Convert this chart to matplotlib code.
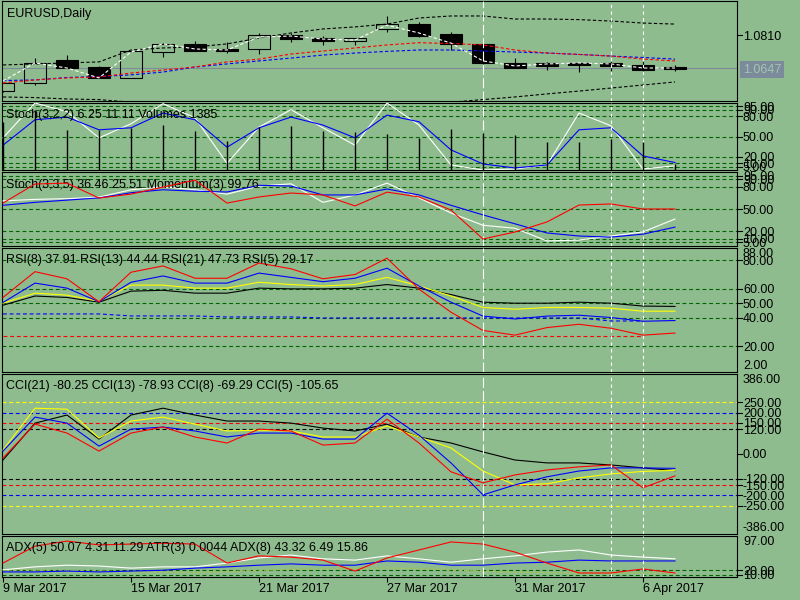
import matplotlib
matplotlib.use("Agg")
import matplotlib.pyplot as plt
import matplotlib.transforms as mtransforms
from matplotlib.patches import Rectangle

plt.rcParams['font.family'] = ['Liberation Sans', 'DejaVu Sans']
plt.rcParams['font.size'] = 9

BG = '#8fbc8f'
GRID = '#006400'

# x axis
tick_pos = [0, 4, 8, 12, 16, 20]
tick_labels = ['9 Mar 2017', '15 Mar 2017', '21 Mar 2017', '27 Mar 2017', '31 Mar 2017', '6 Apr 2017']
long_sep = [15]
short_sep = [19, 20]

# price candles
opens = [1.0535, 1.0573, 1.0686, 1.0652, 1.0598, 1.0726, 1.0766, 1.0741, 1.0741, 1.0810, 1.0795,
         1.0780, 1.0840, 1.0864, 1.0815, 1.0766, 1.0672, 1.0672, 1.0672, 1.0672, 1.0662, 1.0652]
highs = [1.0575, 1.0696, 1.0711, 1.0657, 1.0733, 1.0770, 1.0780, 1.0775, 1.0820, 1.0820, 1.0805,
         1.0795, 1.0904, 1.0874, 1.0825, 1.0770, 1.0696, 1.0677, 1.0672, 1.0682, 1.0682, 1.0660]
lows = [1.0530, 1.0563, 1.0647, 1.0598, 1.0598, 1.0701, 1.0731, 1.0721, 1.0716, 1.0775, 1.0761,
        1.0761, 1.0825, 1.0800, 1.0736, 1.0667, 1.0647, 1.0637, 1.0627, 1.0627, 1.0627, 1.0634]
closes = [1.0573, 1.0672, 1.0647, 1.0598, 1.0731, 1.0766, 1.0731, 1.0731, 1.0810, 1.0790, 1.0780,
          1.0795, 1.0864, 1.0805, 1.0766, 1.0672, 1.0647, 1.0657, 1.0662, 1.0657, 1.0637, 1.0644]
bid = 1.0647

# moving averages and bands on the price chart
ma_white = [1.0583, 1.0672, 1.0647, 1.0598, 1.0726, 1.0766, 1.0741, 1.0736, 1.0800, 1.0805, 1.0790,
            1.0785, 1.0859, 1.0820, 1.0770, 1.0682, 1.0657, 1.0667, 1.0672, 1.0667, 1.0647, 1.0647]
ma_red = [1.0573, 1.0588, 1.0598, 1.0603, 1.0622, 1.0637, 1.0652, 1.0677, 1.0691, 1.0716, 1.0731,
          1.0746, 1.0761, 1.0772, 1.0768, 1.0761, 1.0736, 1.0721, 1.0714, 1.0706, 1.0691, 1.0682]
ma_blue = [1.0585, 1.0588, 1.0600, 1.0605, 1.0613, 1.0627, 1.0652, 1.0667, 1.0682, 1.0696, 1.0711,
           1.0721, 1.0729, 1.0736, 1.0736, 1.0731, 1.0726, 1.0721, 1.0714, 1.0706, 1.0699, 1.0691]
band_up = [1.0662, 1.0667, 1.0672, 1.0677, 1.0736, 1.0746, 1.0751, 1.0766, 1.0795, 1.0820, 1.0840,
           1.0850, 1.0864, 1.0894, 1.0904, 1.0904, 1.0889, 1.0889, 1.0886, 1.0879, 1.0869, 1.0864]
band_lo = [1.0504, 1.0501, 1.0494, 1.0491, 1.0478, 1.0472, 1.0468, 1.0465, 1.0460, 1.0455, 1.0452,
           1.0450, 1.0455, 1.0465, 1.0478, 1.0491, 1.0504, 1.0519, 1.0533, 1.0548, 1.0563, 1.0578]

# Stoch(3,2,2) + volumes
stoch1_main = [48, 100, 87, 48, 69, 99, 78, 10, 64, 90, 63, 37, 100, 67, 7.5, 0, 1.5, 7.5, 85, 66, 1.5, 6.25]
stoch1_sig = [37, 75, 79, 60, 63, 85, 75, 34, 63, 79, 67, 48, 82, 72, 30, 9, 3, 7.5, 60, 63, 21, 11.11]
volumes = [11000, 13850, 9230, 9230, 9690, 10390, 9000, 6690, 9920, 10150, 9000,
           8770, 8310, 7380, 9460, 8540, 8080, 6460, 6460, 7150, 6460, 1385]

# Stoch(3,3,5) + Momentum(3)
stoch2_main = [61, 63, 64, 66, 76, 80, 76, 70, 81, 84, 59, 69, 85, 65, 44.6, 28, 24, 6.8, 8, 13.5, 19, 36.46]
stoch2_sig = [55, 59, 62, 65, 72, 76, 74, 73, 82, 81, 69, 69, 77, 69, 55, 42, 30, 17.6, 13.5, 12, 16, 25.51]
momentum = [100.09, 101.15, 101.20, 100.37, 100.59, 100.98, 101.37, 100.09, 100.43, 100.65, 100.54,
            99.93, 100.70, 100.43, 99.70, 98.09, 98.48, 99.04, 99.98, 100.04, 99.76, 99.76]

# RSI
rsi5 = [54, 72, 67, 51, 71.6, 76, 67.4, 67.4, 78, 74, 67, 70, 81.4, 59.8, 43.7, 31, 27.7, 33, 35.3, 32.5, 27.7, 29.17]
rsi8 = [50.5, 64, 60.5, 51, 64.6, 69, 64, 64, 71, 68, 65, 67.4, 74.4, 62, 50.7, 41, 39, 41, 41.6, 40, 37.4, 37.91]
rsi13 = [50, 57, 55.6, 51.4, 62.6, 62.6, 60.5, 60.5, 64.6, 63, 62, 63, 68, 62, 55, 47, 45.8, 47, 47, 46.5, 44.4, 44.44]
rsi21 = [48.6, 55, 54, 50.7, 58.4, 59, 57, 57, 60.5, 60, 60, 60.5, 63, 60.5, 56, 50.7, 50, 50, 50.7, 50, 48, 47.73]
rsi_avg_blue = [42.5, 42.5, 42.5, 42.5, 41.1, 41.1, 41.1, 40.4, 40.4, 40.4, 39.7,
                39.7, 39.7, 39.7, 39.7, 39.7, 39.7, 39.7, 39.7, 37.6, 37.6]
rsi_avg_red = [27.1, 27.1, 27.1, 27.1, 27.1, 27.1, 27.1, 27.1, 27.1, 27.1, 27.1,
               27.1, 27.1, 27.1, 27.1, 27.1, 27.1, 27.1, 27.1, 27.1, 27.1]

# CCI
cci21 = [-29, 149, 188, 72, 188, 221, 188, 159, 159, 149, 125, 111, 144, 82, 53, 10, -29, -43, -43, -53, -67, -80.25]
cci13 = [19, 221, 216, 77, 159, 178, 144, 111, 115, 111, 82, 82, 135, 82, 29, -82, -149, -144, -115, -96, -84, -78.93]
cci8 = [14, 178, 149, 38, 120, 130, 111, 82, 101, 101, 72, 72, 197, 91, -43, -197, -149, -110, -82, -67, -67, -69.29]
cci5 = [-19, 144, 101, 14, 101, 130, 82, 53, 120, 111, 43, 53, 168, 53, -86, -139, -101, -77, -62, -53, -163, -105.65]

# ADX / ATR
adx_red = [36.3, 74.2, 85.6, 77.0, 78.9, 80.8, 78.9, 36.3, 52.4, 49.6, 42.9,
           18.3, 47.7, 65.7, 83.7, 78.9, 60.9, 36.3, 14.0, 14.0, 23.0, 14.0]
adx_white = [21.1, 27.8, 31.5, 29.6, 24.9, 27.8, 27.8, 36.3, 47.7, 54.3, 45.8,
             42.9, 52.4, 45.8, 38.2, 45.8, 52.4, 60.9, 65.7, 54.3, 49.6, 45.8]
adx_blue = [16.4, 16.4, 18.3, 16.4, 18.3, 20.2, 24.9, 27.8, 31.5, 34.4, 31.5,
            31.5, 41.0, 38.2, 31.5, 31.5, 36.3, 38.2, 42.9, 41.0, 41.0, 41.0]
atr_line = [20.7, 20.7, 20.0, 18.5, 17.0, 16.0, 15.0, 17.0, 20.0, 22.0, 23.0,
            24.0, 25.0, 24.0, 21.0, 18.0, 16.0, 15.0, 14.0, 14.0, 14.0, 14.0]

x = list(range(len(closes)))

fig = plt.figure(figsize=(8, 6), dpi=100)
fig.patch.set_facecolor(BG)

LEFT, RIGHT = 2, 737


def panel(y_top, y_bot):
    ax = fig.add_axes([LEFT / 800, 1 - y_bot / 600, (RIGHT - LEFT) / 800, (y_bot - y_top) / 600])
    ax.set_facecolor(BG)
    ax.set_xlim((LEFT - 3) / 32, (RIGHT - 3) / 32)
    ax.set_xticks([])
    ax.set_yticks([])
    for s in ax.spines.values():
        s.set_color('black')
        s.set_linewidth(0.8)
    return ax


def levels(ax, vals, color=GRID):
    for v in vals:
        ax.axhline(v, color=color, lw=0.8, ls=(0, (3.5, 2.5)), zorder=1)


def rlabel(ax, v, text, va='center_baseline', tick=True):
    tr = mtransforms.blended_transform_factory(ax.transAxes, ax.transData)
    off = mtransforms.ScaledTranslation(6 / 100, 0, fig.dpi_scale_trans)
    ax.text(1, v, text, transform=tr + off, ha='left', va=va, clip_on=False)
    if tick:
        ax.plot([1, 1 + 5 / (RIGHT - LEFT)], [v, v], transform=tr, color='black', lw=0.8, clip_on=False)


def title(ax, text, baseline, dx=4):
    tr = ax.transAxes + mtransforms.ScaledTranslation(dx / 100, -baseline / 100, fig.dpi_scale_trans)
    ax.text(0, 1, text, transform=tr, ha='left', va='baseline', zorder=10)


def separators(ax):
    for s in long_sep:
        ax.axvline(s, color='white', lw=0.8, ls=(0, (9, 3)), zorder=5)
    for s in short_sep:
        ax.axvline(s, color='white', lw=0.8, ls=(0, (3, 3)), zorder=5)


LW = 0.8
DASH = (0, (3, 2))

# ---- main price chart
ax0 = panel(1, 101)
ax0.set_ylim(1.0484, 1.0978)
ax0.axhline(bid, color='#7f8a99', lw=0.8, zorder=1)
for i in x:
    o, h, l, c = opens[i], highs[i], lows[i], closes[i]
    lo_b, hi_b = min(o, c), max(o, c)
    ax0.vlines(i, hi_b, h, color='black', lw=LW, zorder=2)
    ax0.vlines(i, l, lo_b, color='black', lw=LW, zorder=2)
    ax0.add_patch(Rectangle((i - 0.35, lo_b), 0.7, max(hi_b - lo_b, 0.00005),
                            facecolor='black' if c < o else 'none', edgecolor='black', lw=LW, zorder=2))
ax0.plot(x, band_up, color='black', lw=LW, ls=DASH, zorder=3)
ax0.plot(x, band_lo, color='black', lw=LW, ls=DASH, zorder=3)
ax0.plot(x, ma_blue, color='blue', lw=LW, ls=DASH, zorder=3)
ax0.plot(x, ma_red, color='red', lw=LW, ls=DASH, zorder=3)
ax0.plot(x, ma_white, color='white', lw=LW, ls=DASH, zorder=3)
separators(ax0)
title(ax0, 'EURUSD,Daily', 16, dx=5)
rlabel(ax0, 1.0810, '1.0810')
tr0 = mtransforms.blended_transform_factory(ax0.transAxes, ax0.transData)
ax0.text(1, bid, '%.4f' % bid,
         transform=tr0 + mtransforms.ScaledTranslation(6 / 100, 0, fig.dpi_scale_trans),
         ha='left', va='center_baseline', color='#a4c6ae', clip_on=False,
         bbox=dict(boxstyle='square,pad=0.2', facecolor='#7b8b9c', edgecolor='none'))

# ---- Stoch(3,2,2) + volumes
stoch_levels = [95, 90, 80, 50, 20, 10, 5]
ax1 = panel(103, 170)
ax1.set_ylim(0, 100)
levels(ax1, stoch_levels)
ax1.plot(x, stoch1_main, color='white', lw=LW, zorder=3)
ax1.plot(x, stoch1_sig, color='blue', lw=LW, zorder=3)
ax1v = ax1.twinx()
ax1v.set_axis_off()
ax1v.set_ylim(0, 15465)
ax1v.vlines(x, 0, volumes, color='black', lw=1.0)
separators(ax1)
title(ax1, 'Stoch(3,2,2) 6.25 11.11 Volumes 1385', 15)
for v in stoch_levels:
    rlabel(ax1, v, '%.2f' % v)

# ---- Stoch(3,3,5) + Momentum(3)
ax2 = panel(172, 246)
ax2.set_ylim(0, 100)
levels(ax2, stoch_levels)
ax2.plot(x, stoch2_main, color='white', lw=LW, zorder=3)
ax2.plot(x, stoch2_sig, color='blue', lw=LW, zorder=3)
ax2m = ax2.twinx()
ax2m.set_axis_off()
ax2m.set_ylim(97.70, 101.82)
ax2m.plot(x, momentum, color='red', lw=LW)
separators(ax2)
title(ax2, 'Stoch(3,3,5) 36.46 25.51 Momentum(3) 99.76', 16)
for v in stoch_levels:
    rlabel(ax2, v, '%.2f' % v)

# ---- RSI
ax3 = panel(248, 372)
ax3.set_ylim(2, 88.5)
levels(ax3, [80, 60, 50, 40, 20])
ax3.plot(range(len(rsi_avg_blue)), rsi_avg_blue, color='blue', lw=LW, ls=(0, (3.5, 2.5)), zorder=2)
ax3.plot(range(len(rsi_avg_red)), rsi_avg_red, color='red', lw=LW, ls=(0, (3.5, 2.5)), zorder=2)
ax3.plot(x, rsi21, color='black', lw=LW, zorder=3)
ax3.plot(x, rsi13, color='yellow', lw=LW, zorder=3)
ax3.plot(x, rsi8, color='blue', lw=LW, zorder=3)
ax3.plot(x, rsi5, color='red', lw=LW, zorder=3)
separators(ax3)
title(ax3, 'RSI(8) 37.91 RSI(13) 44.44 RSI(21) 47.73 RSI(5) 29.17', 15)
rlabel(ax3, 88.5, '88.00', va='top', tick=False)
for v in [80, 60, 50, 40, 20]:
    rlabel(ax3, v, '%.2f' % v)
rlabel(ax3, 2, '2.00', va='bottom', tick=False)

# ---- CCI
ax4 = panel(374, 534)
ax4.set_ylim(-386, 386)
for lv, col in [(250, 'yellow'), (200, 'blue'), (150, 'red'), (120, 'black')]:
    levels(ax4, [lv, -lv], color=col)
ax4.plot(x, cci21, color='black', lw=LW, zorder=3)
ax4.plot(x, cci13, color='yellow', lw=LW, zorder=3)
ax4.plot(x, cci8, color='blue', lw=LW, zorder=3)
ax4.plot(x, cci5, color='red', lw=LW, zorder=3)
separators(ax4)
title(ax4, 'CCI(21) -80.25 CCI(13) -78.93 CCI(8) -69.29 CCI(5) -105.65', 15)
rlabel(ax4, 386, '386.00', va='top', tick=False)
for v in [250, 200, 150, 120, 0, -120, -150, -200, -250]:
    rlabel(ax4, v, '%.2f' % v)
rlabel(ax4, -386, '-386.00', va='bottom', tick=False)

# ---- ADX / ATR
ax5 = panel(536, 577)
ax5.set_ylim(5, 97)
levels(ax5, [20, 10])
ax5.plot(x, atr_line, color='#a9c24a', lw=LW, ls=(0, (3, 2)), zorder=2)
ax5.plot(x, adx_white, color='white', lw=LW, zorder=3)
ax5.plot(x, adx_blue, color='blue', lw=LW, zorder=3)
ax5.plot(x, adx_red, color='red', lw=LW, zorder=3)
separators(ax5)
title(ax5, 'ADX(5) 50.07 4.31 11.29 ATR(3) 0.0044 ADX(8) 43.32 6.49 15.86', 15)
rlabel(ax5, 97, '97.00', va='top', tick=False)
rlabel(ax5, 20, '20.00')
rlabel(ax5, 10, '10.00')

ax5.set_xticks(tick_pos)
ax5.tick_params(axis='x', direction='out', length=3.6, width=0.8, color='black', labelbottom=False)
trx = mtransforms.blended_transform_factory(ax5.transData, ax5.transAxes) + \
    mtransforms.ScaledTranslation(0, -15 / 100, fig.dpi_scale_trans)
for p, lab in zip(tick_pos, tick_labels):
    ax5.text(p, 0, lab, transform=trx, ha='left', va='baseline', clip_on=False)

fig.savefig('out.png', dpi=100, facecolor=BG)
